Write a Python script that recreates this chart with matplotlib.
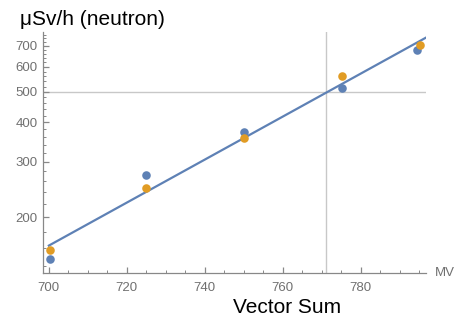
import matplotlib
matplotlib.use('Agg')
import matplotlib.pyplot as plt
import numpy as np
from matplotlib.ticker import FixedLocator, FixedFormatter, NullFormatter

plt.rcParams['font.family'] = ['Liberation Sans', 'DejaVu Sans']

# 测量数据
vs_blue = [700.3, 725.0, 750.1, 775.2, 794.4]
dose_blue = [148, 273, 374, 516, 680]
vs_orange = [700.3, 725.0, 750.1, 775.2, 795.3]
dose_orange = [157, 248, 356, 561, 703]

y_major = [200, 300, 400, 500, 600, 700]
x_major = [700, 720, 740, 760, 780]
ref_x = 771.0   # 参考竖线
ref_y = 500     # 参考横线

blue = '#5E81B5'
orange = '#E19C24'
grey = '#707070'

fig = plt.figure(figsize=(4.55, 3.22), dpi=100)
ax = fig.add_axes([0.0945, 0.151, 0.8415, 0.751])

# 拟合直线 (对数坐标)
xs = np.array(vs_blue + vs_orange)
ys = np.log10(np.array(dose_blue + dose_orange))
k, b = np.polyfit(xs, ys, 1)
xl = np.array([700.0, 797.0])
ax.plot(xl, 10 ** (k * xl + b), color=blue, lw=1.6, zorder=3)

ax.axvline(ref_x, color='#C8C8C8', lw=1, zorder=1)
ax.axhline(ref_y, color='#C8C8C8', lw=1, zorder=1)

ax.scatter(vs_blue, dose_blue, s=38, color=blue, zorder=4, linewidths=0)
ax.scatter(vs_orange, dose_orange, s=38, color=orange, zorder=4, linewidths=0)

ax.set_yscale('log')
ax.set_xlim(698.5, 796.7)
ax.set_ylim(132.8, 777)

ax.yaxis.set_major_locator(FixedLocator(y_major))
ax.yaxis.set_major_formatter(FixedFormatter([str(v) for v in y_major]))
ax.yaxis.set_minor_locator(FixedLocator([v for v in range(140, 780, 20) if v not in y_major]))
ax.yaxis.set_minor_formatter(NullFormatter())
ax.xaxis.set_major_locator(FixedLocator(x_major))
ax.xaxis.set_minor_locator(FixedLocator([v for v in range(700, 797, 5) if v not in x_major]))

for s in ['top', 'right']:
    ax.spines[s].set_visible(False)
for s in ['left', 'bottom']:
    ax.spines[s].set_color('#888888')
    ax.spines[s].set_linewidth(0.9)

ax.tick_params(which='major', direction='in', length=4, width=0.9, color='#888888',
               labelcolor=grey, labelsize=9.5)
ax.tick_params(axis='y', which='major', pad=4)
ax.tick_params(axis='x', which='major', pad=6)
ax.tick_params(which='minor', direction='in', length=2, width=0.7, color='#888888')

fig.text(0.044, 0.922, 'μSv/h (neutron)', fontsize=15, color='black', ha='left', va='baseline')
ax.text(1.024, 0.0, 'MV', transform=ax.transAxes, fontsize=9.5, color=grey, ha='left', va='center')
fig.text(0.631, 0.028, 'Vector Sum', fontsize=15, color='black', ha='center', va='baseline')

fig.savefig('out.png', dpi=100)
